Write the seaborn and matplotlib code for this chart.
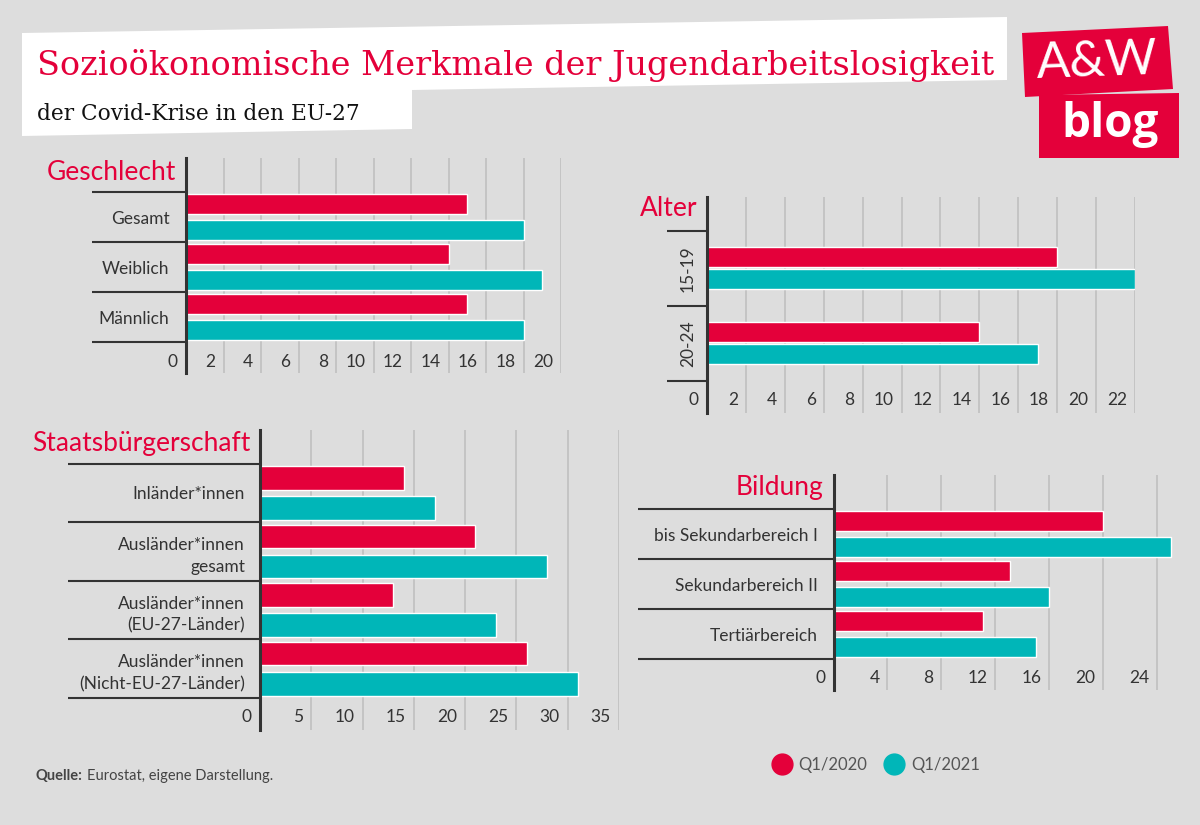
import numpy as np
import pandas as pd
import matplotlib.pyplot as plt
import matplotlib.transforms as mtransforms
from matplotlib.patches import Polygon
from matplotlib.lines import Line2D
import seaborn as sns

# Jugendarbeitslosenquote in %, EU-27
gender_cats = ["Gesamt", "Weiblich", "Männlich"]
gender_2020 = [15.0, 14.0, 15.0]
gender_2021 = [18.0, 19.0, 18.0]

age_cats = ["15-19", "20-24"]
age_2020 = [18.0, 14.0]
age_2021 = [22.0, 17.0]

citizen_cats = ["Inländer*innen", "Ausländer*innen\ngesamt",
                "Ausländer*innen\n(EU-27-Länder)", "Ausländer*innen\n(Nicht-EU-27-Länder)"]
citizen_2020 = [14.0, 21.0, 13.0, 26.0]
citizen_2021 = [17.1, 28.0, 23.0, 31.0]

edu_cats = ["bis Sekundarbereich I", "Sekundarbereich II", "Tertiärbereich"]
edu_2020 = [20.0, 13.1, 11.1]
edu_2021 = [25.0, 16.0, 15.0]

periods = ["Q1/2020", "Q1/2021"]

RED = "#e4003a"
TEAL = "#00b6b8"
BG = "#dddddd"
DARK = "#333333"
GRID = "#bdbdbd"

sns.set_theme(style="white")
plt.rcParams["font.family"] = ["Lato", "DejaVu Sans"]

W, H = 1200, 825
fig = plt.figure(figsize=(12, 8.25), dpi=100, facecolor=BG)


def fx(x):
    return x / W


def fy(y):
    return 1 - y / H


def panel(rect, seps, cats, v20, v21, title, title_xy, ticks, xlim, sep_pt,
          pad_pt, tick_y, width=1.03, gap=0.22, rotate=False):
    l, t, r, b = rect
    ax = fig.add_axes([fx(l), fy(b), (r - l) / W, (b - t) / H])
    ax.set_facecolor("none")
    n = len(cats)
    df = pd.DataFrame({
        "Kategorie": cats * 2,
        "Wert": v20 + v21,
        "Zeitraum": [periods[0]] * n + [periods[1]] * n,
    })
    sns.barplot(data=df, x="Wert", y="Kategorie", hue="Zeitraum", orient="h",
                palette=[RED, TEAL], width=width, gap=gap, saturation=1,
                legend=False, ax=ax, zorder=3)
    ax.set(xlabel="", ylabel="")

    unit = (seps[1] - seps[0]) / n
    ax.set_xlim(*xlim)
    ax.set_ylim(n - 0.5 + (b - seps[1]) / unit, -0.5 - (seps[0] - t) / unit)

    for s in ["top", "right", "bottom"]:
        ax.spines[s].set_visible(False)
    ax.spines["left"].set_color(DARK)
    ax.spines["left"].set_linewidth(2.2)
    ax.spines["left"].set_zorder(4)

    # category separators as long major ticks, labels on minor ticks
    ax.set_yticks(np.arange(n + 1) - 0.5)
    ax.set_yticklabels([])
    ax.set_yticks(np.arange(n), labels=cats, minor=True)
    ax.tick_params(axis="y", which="major", left=True, length=sep_pt, width=1.5, color=DARK)
    ax.tick_params(axis="y", which="minor", left=True, length=0, pad=pad_pt,
                   labelsize=12.5, labelcolor=DARK)
    for lab in ax.get_yticklabels(minor=True):
        lab.set_linespacing(1.45)
        if rotate:
            lab.set_rotation(90)
            lab.set_va("center")

    ax.set_xticks(ticks)
    ax.tick_params(axis="x", length=0, labelbottom=False)
    ax.grid(axis="x", color=GRID, linewidth=1.1)
    ax.grid(axis="y", visible=False)
    ax.set_axisbelow(True)

    off = mtransforms.ScaledTranslation(-0.08, 0, fig.dpi_scale_trans)
    trans = mtransforms.blended_transform_factory(ax.transData, ax.transAxes) + off
    for v in ticks:
        ax.text(v, tick_y, str(v), transform=trans, ha="right", va="center",
                fontsize=12.5, color=DARK)

    fig.text(fx(title_xy[0]), fy(title_xy[1]), title, ha="right", va="center",
             fontsize=19, color=RED)
    return ax


panel((186, 158, 561, 373), (192.3, 342), gender_cats, gender_2020, gender_2021,
      "Geschlecht", (176, 173), list(range(0, 21, 2)), (0, 20), 67.7, 11.9, 0.051)
panel((707, 197, 1135, 413), (230.7, 380.7), age_cats, age_2020, age_2021,
      "Alter", (697, 208), list(range(0, 23, 2)), (0, 22), 28.8, 8, 0.06,
      width=0.6, gap=0.11, rotate=True)
panel((260, 430, 619, 730), (463.7, 698), citizen_cats, citizen_2020, citizen_2021,
      "Staatsbürgerschaft", (251, 443), list(range(0, 36, 5)), (0, 35), 138, 10.8, 0.044)
panel((833.5, 475, 1175, 690), (509, 659.3), edu_cats, edu_2020, edu_2021,
      "Bildung", (823, 488), list(range(0, 25, 4)), (0, 25.3), 141, 11.2, 0.056)

# title block
box = [(22, 33), (1007, 17), (1007, 80), (412, 90), (412, 129), (22, 136)]
fig.add_artist(Polygon([(fx(x), fy(y)) for x, y in box], closed=True,
                       transform=fig.transFigure, facecolor="white", edgecolor="none"))
serif = ["DejaVu Serif"]
fig.text(fx(37), fy(75), "Sozioökonomische Merkmale der Jugendarbeitslosigkeit",
         family=serif, fontsize=24.1, color=RED, va="baseline")
fig.text(fx(37), fy(120), "der Covid-Krise in den EU-27",
         family=serif, fontsize=15.6, color="#111111", va="baseline")

# logo
aw_box = [(1022, 33), (1168, 26), (1173, 89), (1025, 97)]
blog_box = [(1039, 95), (1179, 93), (1179, 158), (1039, 158)]
for pts in (aw_box, blog_box):
    fig.add_artist(Polygon([(fx(x), fy(y)) for x, y in pts], closed=True,
                           transform=fig.transFigure, facecolor=RED, edgecolor="none"))
fig.text(fx(1097), fy(62), "A&W", ha="center", va="center", fontsize=36,
         fontweight="normal", color="white", rotation=2)
fig.text(fx(1110), fy(124), "blog", ha="center", va="center", fontsize=33,
         family=["Open Sans", "Lato"], fontweight="bold", color="white")

# legend
handles = [Line2D([], [], marker="o", ls="", ms=15, color=c) for c in (RED, TEAL)]
fig.legend(handles, periods, loc="center left", bbox_to_anchor=(fx(757), fy(765)),
           ncol=2, frameon=False, fontsize=12, labelcolor="#555555",
           handletextpad=0.4, columnspacing=1.0, handlelength=1.2)

# source
fig.text(fx(35), fy(776), "Quelle:", fontsize=10.5, fontweight="bold", color="#444444", va="center")
fig.text(fx(87), fy(776), "Eurostat, eigene Darstellung.", fontsize=10.5, color="#444444", va="center")

fig.savefig("out.png", dpi=100, facecolor=BG)
